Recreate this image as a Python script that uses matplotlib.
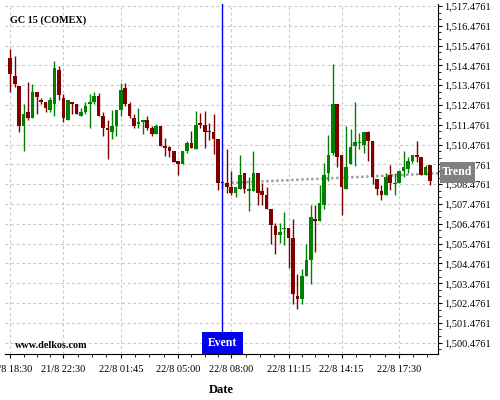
import numpy as np
import matplotlib
matplotlib.use("Agg")
import matplotlib.pyplot as plt
from matplotlib.patches import Rectangle
from matplotlib.ticker import FixedLocator, FuncFormatter, AutoMinorLocator

plt.rcParams["font.family"] = ["Liberation Serif", "DejaVu Serif"]

# OHLC data (one bar per index)
opens = [1514.85, 1513.95, 1513.44, 1511.44, 1512.13, 1511.84, 1513.14, 1512.72, 1512.63, 1512.23,
         1512.55, 1514.25, 1512.83, 1511.72, 1512.63, 1512.53, 1511.93, 1512.13, 1512.53, 1512.63,
         1512.94, 1511.93, 1511.32, 1511.12, 1511.42, 1512.23, 1513.34, 1512.53, 1511.82, 1511.52,
         1511.62, 1511.72, 1511.32, 1511.02, 1511.42, 1510.41, 1510.36, 1510.14, 1509.65, 1509.49,
         1510.14, 1510.58, 1510.27, 1511.59, 1511.49, 1511.18, 1511.12, 1510.78, 1508.59, 1508.56,
         1508.36, 1508.05, 1508.25, 1509.03, 1508.15, 1508.15, 1509.03, 1508.15, 1507.95, 1507.24,
         1506.37, 1505.90, 1506.20, 1506.27, 1505.76, 1502.83, 1502.67, 1503.84, 1504.65, 1506.71,
         1506.61, 1507.45, 1509.06, 1510.07, 1512.53, 1509.94, 1508.22, 1509.50, 1510.41, 1510.58,
         1510.48, 1511.12, 1510.68, 1508.76, 1508.15, 1507.95, 1508.93, 1508.49, 1508.56, 1509.16,
         1509.26, 1509.67, 1509.97, 1509.84, 1508.96, 1509.47]
highs = [1515.29, 1514.96, 1513.44, 1512.52, 1513.63, 1513.53, 1513.14, 1512.82, 1512.63, 1512.90,
         1514.72, 1514.44, 1513.02, 1512.73, 1512.63, 1512.53, 1512.33, 1512.63, 1513.04, 1513.12,
         1513.09, 1512.13, 1511.72, 1512.23, 1512.23, 1513.61, 1513.58, 1512.63, 1512.03, 1512.33,
         1511.72, 1511.93, 1511.42, 1511.52, 1511.42, 1510.81, 1510.41, 1510.14, 1509.65, 1510.14,
         1510.65, 1511.18, 1512.18, 1512.08, 1512.18, 1511.59, 1512.03, 1510.78, 1508.59, 1510.24,
         1509.16, 1508.32, 1509.94, 1509.03, 1508.86, 1510.17, 1509.03, 1508.54, 1508.36, 1507.24,
         1506.54, 1506.54, 1507.08, 1506.27, 1506.71, 1503.95, 1504.18, 1505.46, 1507.42, 1507.42,
         1508.43, 1509.54, 1510.95, 1514.55, 1512.53, 1509.94, 1511.42, 1511.25, 1512.63, 1511.05,
         1511.12, 1511.15, 1510.68, 1508.76, 1508.46, 1509.03, 1509.44, 1509.06, 1509.13, 1510.14,
         1509.84, 1509.94, 1510.65, 1509.84, 1509.47, 1509.47]
lows = [1513.14, 1513.41, 1511.10, 1510.16, 1511.71, 1511.84, 1512.03, 1512.55, 1512.13, 1512.13,
        1511.93, 1512.72, 1511.62, 1511.72, 1512.03, 1512.03, 1511.93, 1512.03, 1511.30, 1512.53,
        1511.93, 1510.93, 1509.74, 1510.75, 1510.92, 1511.93, 1512.43, 1511.82, 1511.32, 1511.32,
        1511.02, 1511.22, 1510.92, 1511.02, 1510.41, 1509.91, 1509.84, 1509.59, 1508.96, 1509.49,
        1510.04, 1510.32, 1510.27, 1511.32, 1510.31, 1510.71, 1510.01, 1508.19, 1508.24, 1508.04,
        1507.95, 1507.82, 1508.25, 1508.02, 1507.11, 1508.15, 1507.45, 1507.45, 1507.24, 1505.46,
        1504.96, 1505.53, 1505.43, 1504.25, 1502.43, 1502.19, 1502.43, 1503.84, 1503.44, 1505.06,
        1506.61, 1507.24, 1508.63, 1509.94, 1509.37, 1506.93, 1508.22, 1509.50, 1509.40, 1510.24,
        1510.04, 1509.67, 1508.49, 1507.95, 1507.68, 1507.95, 1508.19, 1507.92, 1508.56, 1508.86,
        1509.03, 1509.57, 1509.60, 1508.96, 1508.96, 1508.43]
closes = [1514.06, 1513.56, 1511.44, 1512.03, 1511.84, 1513.14, 1512.87, 1512.63, 1512.35, 1512.73,
          1514.35, 1512.97, 1511.84, 1512.73, 1512.53, 1512.03, 1512.13, 1512.43, 1512.63, 1512.94,
          1511.93, 1511.32, 1511.22, 1511.42, 1512.23, 1513.24, 1512.53, 1511.93, 1511.42, 1511.62,
          1511.72, 1511.32, 1511.02, 1511.42, 1510.41, 1510.31, 1510.17, 1509.59, 1509.49, 1510.14,
          1510.58, 1510.32, 1511.49, 1511.47, 1511.12, 1511.12, 1510.78, 1508.56, 1508.56, 1508.36,
          1508.05, 1508.32, 1508.96, 1508.25, 1508.22, 1509.03, 1508.05, 1507.95, 1507.24, 1506.41,
          1505.90, 1506.07, 1506.27, 1505.76, 1502.94, 1502.67, 1503.84, 1504.65, 1506.84, 1506.61,
          1507.52, 1508.93, 1509.94, 1512.53, 1509.87, 1508.36, 1509.34, 1510.38, 1510.61, 1510.61,
          1511.12, 1510.68, 1508.86, 1508.25, 1507.95, 1508.83, 1508.56, 1508.56, 1509.13, 1509.34,
          1509.64, 1509.94, 1509.87, 1508.96, 1509.37, 1508.66]

tick_pos = [0, 12, 25, 38, 50, 63, 75, 88]
tick_labels = ["21/8 18:30", "21/8 22:30", "22/8 01:45", "22/8 05:00",
               "22/8 08:00", "22/8 11:15", "22/8 14:15", "22/8 17:30"]
event_idx = 48
trend_x = [50, 96.8]
trend_y = [1508.55, 1509.03]
price_ticks = 1500.4761 + np.arange(18)

UP = "#008000"
DOWN = "#800000"

fig = plt.figure(figsize=(5, 4), dpi=100)
ax = fig.add_axes([0.01, 0.115, 0.866, 0.875])

o = np.array(opens)
h = np.array(highs)
l = np.array(lows)
c = np.array(closes)
x = np.arange(len(o))
colors = [UP if cc > oo else DOWN for oo, cc in zip(o, c)]

ax.vlines(x, l, h, colors=colors, linewidth=1, zorder=3)
body_bottom = np.minimum(o, c)
body_height = np.maximum(np.abs(c - o), 0.04)
ax.bar(x, body_height, bottom=body_bottom, width=0.82, color=colors, linewidth=0, zorder=4)

# trend line
ax.plot(trend_x, trend_y, color="#a0a0a0", linestyle=(0, (1, 1)), linewidth=1.8, zorder=2)

# event marker
ax.axvline(event_idx, color="#0000ee", linewidth=1, zorder=5)
ax.add_patch(Rectangle((event_idx - 4.6, 0), 9.2, 0.063, transform=ax.get_xaxis_transform(),
                       facecolor="#0000ee", edgecolor="none", zorder=6, clip_on=False))
ax.text(event_idx, 0.031, "Event", transform=ax.get_xaxis_transform(), ha="center", va="center",
        color="white", fontsize=8.5, fontweight="bold", zorder=7)

ax.set_xlim(-1.2, 96.8)
ax.set_ylim(1499.905, 1517.58)

# axes styling
for side in ["top", "left"]:
    ax.spines[side].set_visible(False)
ax.yaxis.tick_right()
ax.yaxis.set_major_locator(FixedLocator(price_ticks))
ax.yaxis.set_major_formatter(FuncFormatter(lambda v, p: f"{v:,.4f}"))
ax.yaxis.set_minor_locator(AutoMinorLocator(3))
ax.xaxis.set_major_locator(FixedLocator(tick_pos))
ax.set_xticklabels(tick_labels)
minor_x = []
for a, b in zip(tick_pos[:-1], tick_pos[1:]):
    minor_x += list(np.linspace(a, b, 5)[1:-1])
minor_x += list(np.arange(tick_pos[-1] + 3.2, 96.8, 3.2))
ax.xaxis.set_minor_locator(FixedLocator(minor_x))
ax.tick_params(axis="x", which="major", labelsize=7.5, length=3, direction="out", pad=5)
ax.tick_params(axis="y", which="major", labelsize=7.5, length=3, direction="out", pad=1.5)
ax.tick_params(axis="both", which="minor", length=2, direction="out")
ax.grid(True, which="major", color="#c8c8c8", linestyle=(0, (2.5, 2.5)), linewidth=0.8)
ax.set_axisbelow(True)

ax.text(0.0115, 0.954, "GC 15 (COMEX)", transform=ax.transAxes, fontsize=7.3,
        fontweight="bold", va="center", ha="left")
ax.text(0.023, 0.012, "www.delkos.com", transform=ax.transAxes, fontsize=7.3,
        fontweight="bold", va="bottom", ha="left")
fig.text(0.442, 0.025, "Date", ha="center", va="center", fontsize=9, fontweight="bold")

# trend label box on the right
fig.patches.append(Rectangle((0.88, 0.5425), 0.07, 0.0525, transform=fig.transFigure,
                             facecolor="#808080", edgecolor="none", zorder=5))
fig.text(0.915, 0.569, "Trend", ha="center", va="center", color="white",
         fontsize=8.5, fontweight="bold", zorder=6)

fig.savefig("out.png", dpi=100)
